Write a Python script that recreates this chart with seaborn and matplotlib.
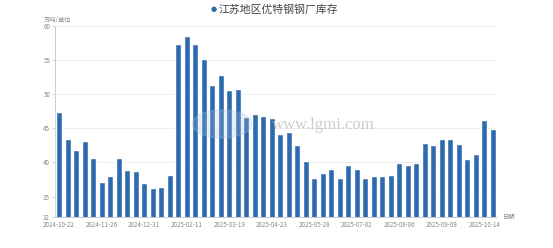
import matplotlib
matplotlib.use("Agg")
import matplotlib.pyplot as plt
import seaborn as sns
import pandas as pd
from matplotlib.patches import Ellipse

dates = [
    "2024-10-22", "2024-10-29", "2024-11-05", "2024-11-12", "2024-11-19",
    "2024-11-26", "2024-12-03", "2024-12-10", "2024-12-17", "2024-12-24",
    "2024-12-31", "2025-01-07", "2025-01-14", "2025-01-21", "2025-02-04",
    "2025-02-11", "2025-02-18", "2025-02-25", "2025-03-04", "2025-03-11",
    "2025-03-19", "2025-03-25", "2025-04-01", "2025-04-08", "2025-04-15",
    "2025-04-23", "2025-04-29", "2025-05-06", "2025-05-13", "2025-05-20",
    "2025-05-28", "2025-06-03", "2025-06-10", "2025-06-17", "2025-06-24",
    "2025-07-02", "2025-07-08", "2025-07-15", "2025-07-22", "2025-07-29",
    "2025-08-06", "2025-08-12", "2025-08-19", "2025-08-26", "2025-09-02",
    "2025-09-09", "2025-09-16", "2025-09-23", "2025-09-30", "2025-10-09",
    "2025-10-14", "2025-10-21",
]
inventory = [
    47.35, 43.4, 41.8, 43.1, 40.6, 37.1, 38.0, 40.7, 38.9, 38.8,
    37.0, 36.2, 36.4, 38.1, 57.35, 58.6, 57.35, 55.1, 51.3, 52.8,
    50.6, 50.8, 46.6, 47.1, 46.85, 46.5, 44.1, 44.4, 42.6, 40.15,
    37.7, 38.5, 39.1, 37.75, 39.65, 39.1, 37.75, 38.0, 37.95, 38.1,
    39.85, 39.65, 39.95, 42.9, 42.5, 43.4, 43.4, 42.75, 40.55, 41.2,
    46.2, 44.85,
]
title_text = "江苏地区优特钢钢厂库存"
y_unit = "万吨/单位"
x_name = "日期"
y_ticks = [32, 35, 40, 45, 50, 55, 60]

sns.set_style("white")
plt.rcParams["font.family"] = ["Noto Sans CJK SC", "DejaVu Sans"]

bar_color = "#2d6aae"
df = pd.DataFrame({"date": dates, "inventory": inventory})

fig = plt.figure(figsize=(5.53, 2.48), dpi=100)
ax = fig.add_axes([55 / 553, 1 - 217 / 248, 442 / 553, 191 / 248])

sns.barplot(data=df, x="date", y="inventory", color=bar_color, width=0.72,
            saturation=1, ax=ax, zorder=3)

ax.set_xlim(-0.5, len(dates) - 0.5)
ax.set_ylim(32, 60)
ax.set_yticks(y_ticks)
ax.set_yticklabels([str(v) for v in y_ticks])
ax.set_xticks(range(0, len(dates), 5))
ax.set_xticklabels([dates[i] for i in range(0, len(dates), 5)])
ax.set_xlabel("")
ax.set_ylabel("")

for v in y_ticks[1:]:
    ax.axhline(v, color="#eeeeee", lw=0.7, zorder=1)

for s in ["top", "right"]:
    ax.spines[s].set_visible(False)
ax.spines["left"].set_color("#c8ccd4")
ax.spines["bottom"].set_color("#c8ccd4")
ax.spines["left"].set_linewidth(0.7)
ax.spines["bottom"].set_linewidth(0.7)

ax.tick_params(axis="y", length=2, width=0.6, color="#c8ccd4", labelsize=4.5,
               labelcolor="#888888", pad=1.5, left=True)
ax.tick_params(axis="x", length=0, labelsize=4.5, labelcolor="#888888", pad=3.2,
               bottom=True)

fig.text(44 / 553, 1 - 20 / 248, y_unit, fontsize=4.5, color="#888888",
         va="center", ha="left")
fig.text(503 / 553, 1 - 217 / 248, x_name, fontsize=4.5, color="#888888",
         va="center", ha="left")

# legend-style title
fig.text(214 / 553, 1 - 9 / 248, "●", fontsize=5, color=bar_color,
         va="center", ha="center", family=["DejaVu Sans"])
fig.text(219 / 553, 1 - 9 / 248, title_text, fontsize=7.8, color="#444444",
         va="center", ha="left")

# watermark
fig.patches.append(Ellipse((222 / 553, 1 - 124 / 248), 60 / 553, 28 / 248,
                           transform=fig.transFigure, color="#a9c2e4",
                           alpha=0.25, zorder=10))
fig.text(323 / 553, 1 - 125 / 248, "www.lgmi.com", fontsize=12,
         color="#b8b8b8", alpha=0.7, va="center", ha="center",
         family=["Liberation Serif"], zorder=10)

fig.savefig("out.png", dpi=100)
